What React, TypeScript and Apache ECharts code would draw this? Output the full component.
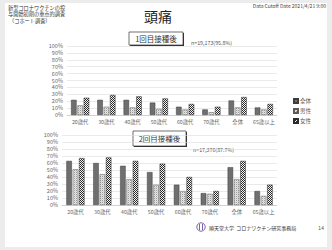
import React, { useEffect, useRef } from 'react';
import * as echarts from 'echarts';

const categories = ['20歳代', '30歳代', '40歳代', '50歳代', '60歳代', '70歳代', '全体', '65歳以上'];
const seriesNames = ['全体', '男性', '女性'];
const dose1Total = [22, 22, 22, 18, 12, 8, 21, 11];
const dose1Male = [14, 12, 11, 9, 8, 4, 11, 8];
const dose1Female = [25, 29, 27, 24, 16, 12, 26, 16];
const dose2Total = [63, 60, 56, 47, 29, 17, 54, 20];
const dose2Male = [51, 44, 37, 29, 20, 16, 37, 13];
const dose2Female = [67, 68, 63, 59, 40, 20, 63, 29];

const headerLines = ['新型コロナワクチンの投', '与開始初期の重点的調査', '（コホート調査）'];
const titleText = '頭痛';
const cutoffText = 'Data Cutoff Date 2021/4/21 9:00';
const box1Text = '1回目接種後';
const box2Text = '2回目接種後';
const n1Text = 'n=19,173(95.8%)';
const n2Text = 'n=17,376(87.7%)';
const footerText = '順天堂大学  コロナワクチン研究事務局';
const pageNo = '14';

const FONT = '"Noto Sans CJK JP", "Noto Sans", sans-serif';

function makePattern(cells: string[][]) {
  const c = document.createElement('canvas');
  const h = cells.length;
  const w = cells[0].length;
  c.width = w;
  c.height = h;
  const ctx = c.getContext('2d')!;
  for (let y = 0; y < h; y++) {
    for (let x = 0; x < w; x++) {
      ctx.fillStyle = cells[y][x];
      ctx.fillRect(x, y, 1, 1);
    }
  }
  return { image: c, repeat: 'repeat' } as any;
}

export default function App() {
  const ref = useRef<HTMLDivElement>(null);
  useEffect(() => {
    if (!ref.current) return;
    const chart = echarts.init(ref.current, undefined, { renderer: 'svg' });
    const malePat = makePattern([
      ['#9a9a9a', '#e6e6e6'],
      ['#e6e6e6', '#d0d0d0'],
    ]);
    const femalePat = makePattern([
      ['#2a2a2a', '#f4f4f4'],
      ['#f4f4f4', '#2a2a2a'],
    ]);
    const styles = [
      { color: '#6f6f6f', borderColor: '#3c3c3c', borderWidth: 0.5 },
      { color: malePat, borderColor: '#5a5a5a', borderWidth: 0.5 },
      { color: femalePat, borderColor: '#2a2a2a', borderWidth: 0.5 },
    ];
    const data1 = [dose1Total, dose1Male, dose1Female];
    const data2 = [dose2Total, dose2Male, dose2Female];
    const mkSeries = (d: number[][], idx: number) =>
      d.map((vals, i) => ({
        type: 'bar',
        name: seriesNames[i],
        xAxisIndex: idx,
        yAxisIndex: idx,
        data: vals,
        barWidth: 5.5,
        barGap: '15%',
        itemStyle: styles[i],
      }));
    const xAxisBase = {
      type: 'category',
      data: categories,
      axisTick: { show: false },
      axisLine: { lineStyle: { color: '#bfbfbf', width: 0.6 } },
      axisLabel: { fontSize: 5.3, color: '#666', fontFamily: FONT, margin: 4, interval: 0 },
    };
    const yAxisBase = {
      type: 'value',
      min: 0,
      max: 100,
      interval: 10,
      axisLine: { show: false },
      axisTick: { show: false },
      splitLine: { lineStyle: { color: '#dcdcdc', width: 0.6 } },
      axisLabel: { fontSize: 5.5, color: '#666', fontFamily: FONT, margin: 4, formatter: '{value}%' },
    };
    const boxGroup = (x: number, y: number, w: number, h: number, text: string) => ({
      type: 'group',
      children: [
        { type: 'rect', shape: { x: x + 1, y: y + 1, width: w, height: h }, style: { fill: '#333' } },
        { type: 'rect', shape: { x, y, width: w, height: h }, style: { fill: '#fff', stroke: '#333', lineWidth: 0.7 } },
        {
          type: 'text',
          x: x + w / 2,
          y: y + h / 2,
          style: { text, fontSize: 7.5, fill: '#333', fontFamily: FONT, align: 'center', verticalAlign: 'middle' },
        },
      ],
    });
    chart.setOption({
      animation: false,
      backgroundColor: '#ececec',
      textStyle: { fontFamily: FONT },
      legend: {
        data: seriesNames,
        orient: 'vertical',
        left: 288,
        top: 93,
        itemWidth: 4,
        itemHeight: 4,
        itemGap: 4,
        icon: 'rect',
        textStyle: { fontSize: 5.5, color: '#555', fontFamily: FONT, padding: [0, 0, 0, -3] },
      },
      grid: [
        { left: 67, right: 55, top: 46, bottom: 135 },
        { left: 62, right: 55, top: 135, bottom: 45 },
      ],
      xAxis: [
        { ...xAxisBase, gridIndex: 0 },
        { ...xAxisBase, gridIndex: 1 },
      ],
      yAxis: [
        { ...yAxisBase, gridIndex: 0 },
        { ...yAxisBase, gridIndex: 1 },
      ],
      series: [...mkSeries(data1, 0), ...mkSeries(data2, 1)],
      graphic: [
        { type: 'rect', z: -10, shape: { x: 5, y: 3, width: 322, height: 244 }, style: { fill: '#fff' }, silent: true },
        ...headerLines.map((t, i) => ({
          type: 'text',
          x: i === 2 ? 9 : 8,
          y: 7 + i * 6.8,
          style: { text: t, fontSize: 5.2, fill: '#333', fontFamily: FONT, verticalAlign: 'middle' },
        })),
        {
          type: 'text',
          x: 158,
          y: 16,
          style: { text: titleText, fontSize: 14, fill: '#222', fontFamily: FONT, align: 'center', verticalAlign: 'middle' },
        },
        {
          type: 'text',
          x: 326,
          y: 5,
          style: { text: cutoffText, fontSize: 5, fill: '#444', fontFamily: FONT, align: 'right', verticalAlign: 'middle' },
        },
        boxGroup(129, 32, 54, 13, box1Text),
        boxGroup(133, 131, 53, 15, box2Text),
        {
          type: 'text',
          x: 191,
          y: 43,
          style: { text: n1Text, fontSize: 5.3, fill: '#555', fontFamily: FONT, verticalAlign: 'middle' },
        },
        {
          type: 'text',
          x: 193,
          y: 150,
          style: { text: n2Text, fontSize: 5.3, fill: '#555', fontFamily: FONT, verticalAlign: 'middle' },
        },
        { type: 'circle', shape: { cx: 201, cy: 227, r: 4.2 }, style: { fill: '#fff', stroke: '#7d64a8', lineWidth: 1 } },
        { type: 'line', shape: { x1: 199.5, y1: 224, x2: 199.5, y2: 230 }, style: { stroke: '#7d64a8', lineWidth: 1 } },
        { type: 'line', shape: { x1: 202.5, y1: 224, x2: 202.5, y2: 230 }, style: { stroke: '#7d64a8', lineWidth: 1 } },
        {
          type: 'text',
          x: 209,
          y: 227.5,
          style: { text: footerText, fontSize: 5, fill: '#333', fontFamily: FONT, verticalAlign: 'middle' },
        },
        {
          type: 'text',
          x: 318,
          y: 227.5,
          style: { text: pageNo, fontSize: 5.5, fill: '#666', fontFamily: FONT, verticalAlign: 'middle' },
        },
      ],
    });
    return () => chart.dispose();
  }, []);
  return <div ref={ref} style={{ position: 'fixed', left: 0, top: 0, width: 332, height: 250 }} />;
}
